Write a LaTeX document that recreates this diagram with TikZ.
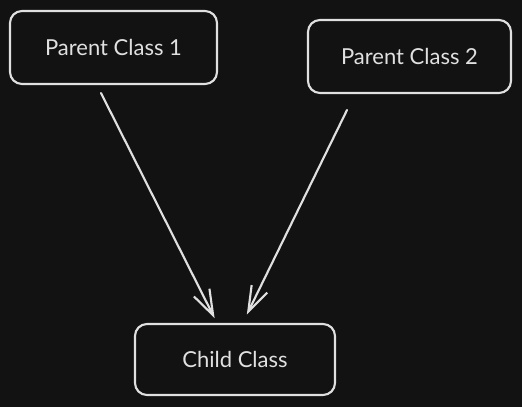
\documentclass[tikz,border=0pt]{standalone}
\usepackage{xcolor}
\usepackage{fontspec}
\setmainfont{Lato}
\usepackage{tikz}
\usetikzlibrary{arrows.meta, positioning}

\definecolor{bgdark}{HTML}{121212}
\definecolor{chalk}{HTML}{E0E0E0}

\begin{document}
\begin{tikzpicture}[x=0.75pt, y=-0.75pt,
  classbox/.style={draw=chalk, line width=1.6pt, rounded corners=9pt, text=chalk,
    font=\fontsize{16.5pt}{19pt}\selectfont, inner sep=0pt},
  inherit/.style={draw=chalk, line width=1.6pt, line cap=round,
    -{Straight Barb[length=19pt, width=13pt, line width=1.6pt]}}]
% Background
\fill[bgdark] (0,0) rectangle (522,407);
\useasboundingbox (0,0) rectangle (522,407);
% Boxes
\node[classbox, minimum width=155.25pt, minimum height=54.75pt] (parent1) at (113.5,47.5) {Parent Class 1};
\node[classbox, minimum width=152.25pt, minimum height=54.75pt] (parent2) at (409.5,56.5) {Parent Class 2};
\node[classbox, minimum width=150pt, minimum height=53.25pt] (child) at (235,359.5) {Child Class};
% Arrows
\draw[inherit, shorten <=6.7pt, shorten >=4pt] ([xshift=-12.4pt]parent1.south) -- ([xshift=-13.5pt]child.north);
\draw[inherit, shorten <=13.3pt, shorten >=7pt] ([xshift=-41pt]parent2.south) -- ([xshift=5.8pt]child.north);
\end{tikzpicture}
\end{document}
